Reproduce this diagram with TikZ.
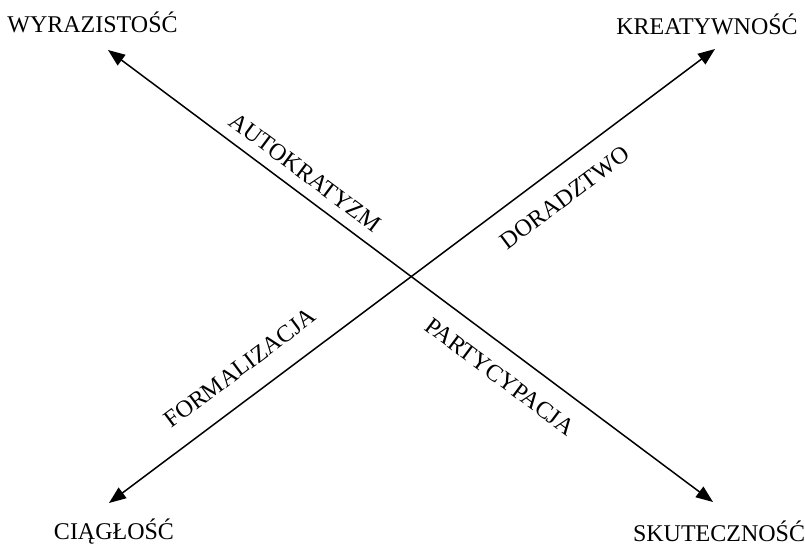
\documentclass[tikz,border=0pt]{standalone}
\usepackage{fontspec}
\setmainfont{Liberation Serif}
\usetikzlibrary{arrows.meta}
\begin{document}
\begin{tikzpicture}[x=1pt,y=-1pt,
  lbl/.style={inner sep=0pt,font=\fontsize{24}{28}\selectfont},
  axis/.style={line width=1.5pt,{Triangle[length=17pt,width=13pt]}-{Triangle[length=17pt,width=13pt]}}]
\useasboundingbox (0,0) rectangle (805,543);
% arrow tips
\coordinate (wt) at (108,50);
\coordinate (st) at (713,502);
\coordinate (kt) at (715,49);
\coordinate (ct) at (109,503);
% axes
\draw[axis] (wt) -- (st);
\draw[axis] (ct) -- (kt);
% end labels
\node[lbl,anchor=base] (w) at (92.5,33) {WYRAZISTOŚĆ};
\node[lbl,anchor=base] (k) at (707,35) {KREATYWNOŚĆ};
\node[lbl,anchor=base] (c) at (114,539.5) {CIĄGŁOŚĆ};
\node[lbl,anchor=base] (s) at (719,541) {SKUTECZNOŚĆ};
% axis labels
\node[lbl,rotate=-36.8] (a1) at (305,172.5) {AUTOKRATYZM};
\node[lbl,rotate=36.8] (a2) at (565,197.5) {DORADZTWO};
\node[lbl,rotate=36.8] (a3) at (240,368) {FORMALIZACJA};
\node[lbl,rotate=-36.8] (a4) at (500,376.7) {PARTYCYPACJA};
\end{tikzpicture}
\end{document}
